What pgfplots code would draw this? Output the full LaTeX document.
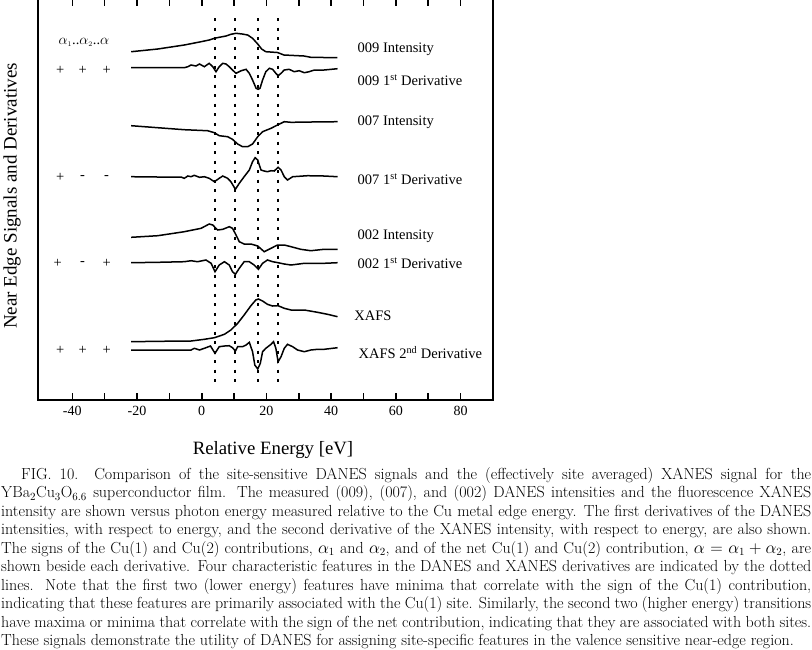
\documentclass[border=0pt]{standalone}
\usepackage{pgfplots}
\pgfplotsset{compat=1.18}
\usepackage{fontspec}
\newfontfamily\tm{Liberation Serif}
\tikzset{crv/.style={black, solid, line width=1.5pt, mark=none}}
\begin{document}
\begin{tikzpicture}[x=1pt,y=1pt]
\path[use as bounding box] (0,0) rectangle (812,-649);
\begin{axis}[
  scale only axis, width=455pt, height=401.5pt,
  at={(38pt,-400pt)}, anchor=south west,
  xmin=-50.6, xmax=90, ymin=0, ymax=401.5, y dir=reverse,
  axis line style={line width=1.6pt},
  xtick={-40,-20,...,80}, minor xtick={-30,-10,...,70},
  ytick=\empty,
  tick align=inside, xtick pos=both,
  major tick length=7pt, minor tick length=7pt,
  every tick/.style={line width=1.6pt, black},
  every minor tick/.style={line width=1.6pt, black},
  /pgf/number format/assume math mode=true,
  xticklabel style={font=\tm\fontsize{14}{14}\selectfont, yshift=-3pt},
  clip=false,
  nodes={font=\tm\fontsize{14.5}{15}\selectfont},
]
% y coordinates below are image rows + 1.5 (axis top lies 1.5pt above the picture)
\addplot[crv, line width=2pt, dash pattern=on 3pt off 6.5pt] coordinates {(4.2,19.5) (4.2,385.5)};
\addplot[crv, line width=2pt, dash pattern=on 3pt off 6.5pt] coordinates {(10.4,19.5) (10.4,385.5)};
\addplot[crv, line width=2pt, dash pattern=on 3pt off 6.5pt] coordinates {(17.4,19.5) (17.4,385.5)};
\addplot[crv, line width=2pt, dash pattern=on 3pt off 6.5pt] coordinates {(23.5,19.5) (23.5,385.5)};
\end{axis}
\begin{axis}[
  scale only axis, width=455pt, height=400pt,
  at={(38pt,-400pt)}, anchor=south west,
  xmin=-50.6, xmax=90, ymin=0, ymax=400, y dir=reverse,
  hide axis, clip=false,
  nodes={font=\tm\fontsize{14.5}{15}\selectfont},
]
% 009 intensity
\addplot[crv] coordinates {(-21.8,51.7) (-13.6,49) (-5.4,45) (-0.2,41.7) (2.3,40) (3.9,38.3) (5.4,37.3) (7.5,36) (9.0,34.3) (10.6,33.3) (12.5,34) (14.2,35) (15.7,38.3) (17.3,44) (18.5,49) (19.8,51.7) (23.4,52.5) (25.4,55) (31.6,56) (33.7,57.3) (41.9,57.7)};
% 009 derivative
\addplot[crv] coordinates {(-21.8,67.7) (-13.6,67.7) (-5.4,67.7) (-4.3,66.7) (-3.3,65) (-1.8,66) (-0.7,64) (0.8,66.7) (2.3,63.3) (3.4,66.7) (4.4,71.7) (5.4,66.7) (6.5,63.3) (7.5,64) (8.5,66.7) (9.5,70) (10.6,73.3) (12.2,70.7) (13.7,69.3) (14.7,73.3) (15.7,80) (16.8,88.3) (17.4,89.3) (18.0,88.3) (18.8,80) (19.8,71.7) (20.9,68.3) (21.9,69.3) (22.9,73.3) (23.6,75.7) (24.5,73.3) (25.5,70) (27.0,69.3) (28.6,71.7) (30.1,70.7) (31.7,72.7) (33.2,71.7) (34.8,70) (37.8,70) (41.96,68.7)};
% 007 intensity
\addplot[crv] coordinates {(-21.8,125.7) (-13.6,127.7) (-5.4,129.7) (1.8,130.7) (3.9,132.7) (5.4,135.7) (8.0,136.7) (9.5,139.3) (11.1,144) (12.6,146.7) (14.2,146.7) (15.7,144) (17.3,136.7) (18.8,131.7) (21.4,128.3) (23.4,125) (25.5,121.7) (27.6,122.3) (33.7,122) (41.96,121.7)};
% 007 derivative
\addplot[crv] coordinates {(-21.8,176.7) (-13.6,177) (-6.4,177) (-5.4,178.3) (-4.3,176) (-3.3,176.7) (-2.3,175.3) (-0.7,177.3) (0.8,176.7) (2.3,178.3) (3.9,181.7) (5.4,178.3) (6.5,176) (8.0,178.3) (9.0,181.7) (10.4,189.3) (11.6,183.3) (13.1,176.7) (14.7,170) (15.7,161.7) (16.5,157.7) (17.3,160) (18.3,170) (19.3,171) (20.3,171.7) (21.4,170.7) (22.4,171) (23.6,167.3) (24.5,170) (25.5,176.7) (26.5,180) (28.1,176.7) (32.7,175.7) (37.8,176) (41.96,176.7)};
% 002 intensity
\addplot[crv] coordinates {(-21.8,237.3) (-13.6,235.7) (-5.4,231.7) (-0.2,228.3) (2.3,224) (3.4,225) (4.9,230) (6.5,229.3) (8.5,226.7) (9.5,228.3) (10.6,235) (11.6,241.7) (13.1,244) (15.2,244) (17.3,246) (19.3,251.7) (21.4,248.3) (23.4,245) (25.5,245) (27.6,246.7) (30.6,249.3) (33.7,250.7) (37.8,249.3) (41.96,249.3)};
% 002 derivative
\addplot[crv] coordinates {(-21.8,262.7) (-13.6,262.3) (-5.4,261.7) (-3.3,260.7) (-1.3,261.7) (1.3,260) (2.9,263.3) (4.1,271.7) (5.4,265) (7.0,261.7) (8.5,265) (9.5,271.7) (10.4,274.3) (11.6,268.3) (13.1,261.7) (14.7,261.7) (16.2,265) (17.5,269.3) (18.8,263.3) (20.3,260) (21.9,261.7) (23.6,262.7) (25.5,264) (27.6,265) (31.7,263.3) (37.8,263.3) (41.96,262.7)};
% XAFS
\addplot[crv] coordinates {(-21.8,341.7) (-13.6,341.3) (-3.3,341) (0.8,339.3) (3.9,337.7) (7.0,334.3) (9.0,330) (11.1,323.3) (13.1,315) (15.2,305.7) (16.7,300) (17.5,299) (18.8,301) (20.3,304.3) (21.9,306) (23.6,305.7) (25.5,308.3) (27.6,310) (31.7,310) (35.8,312.3) (38.9,314.3) (41.96,316.7)};
% XAFS 2nd derivative
\addplot[crv] coordinates {(-21.8,350) (-13.6,350) (-3.3,350) (-2.3,348.3) (-0.7,350) (1.3,347.7) (2.7,346) (4.1,353.3) (5.4,346.7) (7.0,346) (8.5,345.7) (9.5,347.7) (10.4,351) (11.1,346.7) (12.6,346.7) (13.7,345) (14.7,342.3) (15.7,351.7) (16.4,365) (17.3,369) (18.1,363.3) (18.8,351.7) (19.8,348.3) (21.4,344.3) (22.2,341.7) (22.9,348.3) (23.6,361.7) (24.5,356.7) (25.5,348.3) (26.5,344.3) (28.1,346.7) (29.6,350) (31.7,351.7) (33.7,350) (35.8,349.3) (37.8,349.3) (41.96,347.7)};
% right labels
\node[anchor=west] at (axis cs:47.1,49) {009 Intensity};
\node[anchor=west] at (axis cs:47.1,80) {009 1\textsuperscript{st} Derivative};
\node[anchor=west] at (axis cs:47.1,122.7) {007 Intensity};
\node[anchor=west] at (axis cs:47.1,179.3) {007 1\textsuperscript{st} Derivative};
\node[anchor=west] at (axis cs:47.1,236.7) {002 Intensity};
\node[anchor=west] at (axis cs:47.1,263.3) {002 1\textsuperscript{st} Derivative};
\node[anchor=west] at (axis cs:46.1,316) {XAFS};
\node[anchor=west] at (axis cs:47.4,352.7) {XAFS 2\textsuperscript{nd} Derivative};
% left sign labels
\node at (axis cs:-36.4,42.7) {$\alpha_{\scriptscriptstyle 1}$..$\alpha_{\scriptscriptstyle 2}$..$\alpha$};
\node at (axis cs:-43.7,70) {+}; \node at (axis cs:-36.8,70) {+}; \node at (axis cs:-29.4,70) {+};
\node at (axis cs:-43.7,177.3) {+}; \node at (axis cs:-36.8,177.3) {-}; \node at (axis cs:-29.4,177.3) {-};
\node at (axis cs:-44.5,263.3) {+}; \node at (axis cs:-36.8,263.3) {-}; \node at (axis cs:-29.4,263.3) {+};
\node at (axis cs:-43.7,350) {+}; \node at (axis cs:-36.8,350) {+}; \node at (axis cs:-29.4,350) {+};
\end{axis}
\node[rotate=90, font=\tm\fontsize{19}{19}\selectfont] at (12,-196) {Near Edge Signals and Derivatives};
\node[font=\tm\fontsize{18.8}{19}\selectfont] at (273,-450) {Relative Energy [eV]};
\node[anchor=north west, inner sep=0pt, text width=810pt, align=justify, font=\fontsize{16}{18.5}\selectfont] at (1,-467) {%
\hspace*{20pt}FIG. 10. Comparison of the site-sensitive DANES signals and the (effectively site averaged) XANES signal for the\linebreak
YBa$_2$Cu$_3$O$_{6.6}$ superconductor film. The measured (009), (007), and (002) DANES intensities and the fluorescence XANES\linebreak
intensity are shown versus photon energy measured relative to the Cu metal edge energy. The first derivatives of the DANES\linebreak
intensities, with respect to energy, and the second derivative of the XANES intensity, with respect to energy, are also shown.\linebreak
The signs of the Cu(1) and Cu(2) contributions, $\alpha_1$ and $\alpha_2$, and of the net Cu(1) and Cu(2) contribution, $\alpha=\alpha_1+\alpha_2$, are\linebreak
shown beside each derivative. Four characteristic features in the DANES and XANES derivatives are indicated by the dotted\linebreak
lines. Note that the first two (lower energy) features have minima that correlate with the sign of the Cu(1) contribution,\linebreak
indicating that these features are primarily associated with the Cu(1) site. Similarly, the second two (higher energy) transitions\linebreak
have maxima or minima that correlate with the sign of the net contribution, indicating that they are associated with both sites.\linebreak
These signals demonstrate the utility of DANES for assigning site-specific features in the valence sensitive near-edge region.};
\end{tikzpicture}
\end{document}
